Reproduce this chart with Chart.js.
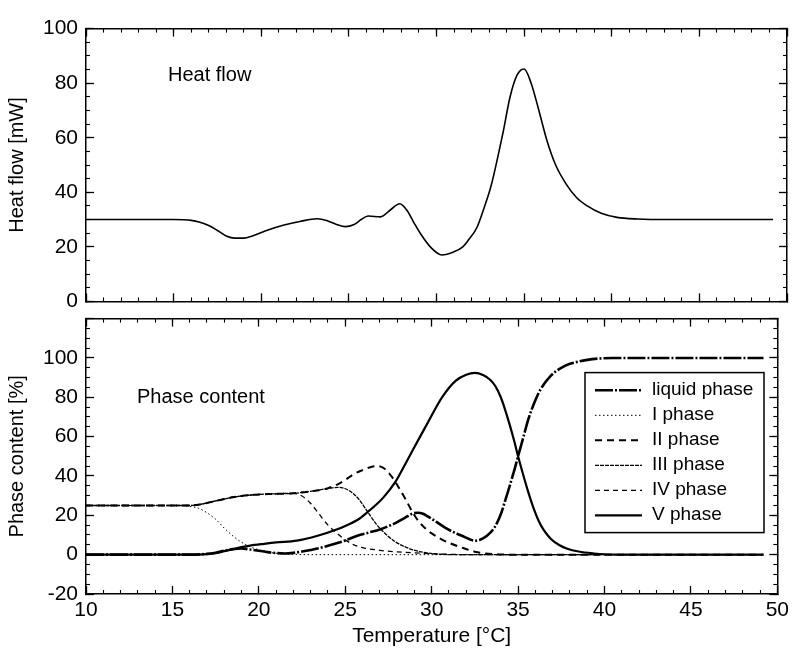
<!DOCTYPE html>
<html>
<head>
<meta charset="utf-8">
<script src="https://cdn.jsdelivr.net/npm/chart.js@4.4.1/dist/chart.umd.min.js"></script>
<style>
    html, body { margin: 0; padding: 0; background: #fff; }
    #wrap { position: relative; width: 801px; height: 650px; overflow: hidden; }
    canvas { position: absolute; left: 0; }
    #heatChart { top: 0; }
    #phaseChart { top: 290px; }
</style>
</head>
<body>
<div id="wrap">
    <canvas id="phaseChart" width="801" height="360"></canvas>
    <canvas id="heatChart" width="801" height="330"></canvas>
</div>
<script>
/* ----------------------------------------------------------------------------
  DSC heat flow + phase content vs temperature
---------------------------------------------------------------------------- */

// temperature axis
const xTickLabels = [10, 15, 20, 25, 30, 35, 40, 45, 50];
const heatTickLabels = [0, 20, 40, 60, 80, 100];
const phaseTickLabels = [-20, 0, 20, 40, 60, 80, 100];

// heat flow [mW]
const heatT = [10, 15, 16, 16.5, 17, 17.5, 18, 18.5, 19, 19.5, 20.3, 21.3, 22.2, 23.2, 23.8, 24.3, 24.8, 25.3, 25.7, 26.1, 26.8, 27.4, 27.9, 28.3, 28.7, 29.1, 29.7, 30.3, 31, 31.5, 31.8, 32.3, 32.7, 33.1, 33.5, 33.8, 34.2, 34.6, 35, 35.4, 35.8, 36.3, 36.8, 37.4, 38, 38.6, 39.4, 40.3, 41.5, 43, 49.2];
const heatFlow = [30, 30, 29.7, 29, 27.8, 26, 24, 23.2, 23.2, 24, 26, 28, 29.3, 30.3, 29.5, 28.2, 27.4, 28.2, 30, 31.3, 31, 33.7, 35.8, 33.5, 29, 24.7, 19.6, 17, 18.2, 20, 22.3, 27, 34, 42, 53, 62, 75, 83, 85.2, 80, 71, 59, 50, 43, 38, 35, 32.3, 30.8, 30.2, 30, 30];

// phase content [%]
const liquidT = [10, 16, 17, 17.5, 18, 18.5, 19, 19.5, 20, 20.5, 21, 21.5, 22, 22.5, 23, 23.5, 24, 24.5, 25, 25.7, 26.4, 27, 27.5, 27.9, 28.4, 28.9, 29.2, 29.5, 29.8, 30.3, 30.8, 31.3, 31.75, 32.2, 32.5, 32.8, 33.2, 33.65, 34, 34.2, 34.5, 34.8, 35, 35.3, 35.6, 36, 36.3, 36.9, 37.5, 38, 39, 40.5, 42, 49.2];
const liquid = [0, 0, 0.4, 1, 2, 2.8, 3.1, 2.6, 2, 1.3, 0.8, 0.6, 0.9, 1.6, 2.4, 3.3, 4.5, 5.8, 7.2, 9.6, 11.3, 12.8, 14.5, 16, 18.5, 20.9, 21.3, 20.8, 19.3, 16.5, 13.6, 11.3, 9.6, 7.8, 7.1, 7.6, 9.6, 14, 20.5, 26, 34.5, 43.5, 50, 59.5, 69, 78.5, 84, 91, 95, 97, 99, 100, 100, 100];

const phase1T = [10, 15.5, 16, 16.5, 17, 17.5, 18, 18.5, 19, 19.5, 20, 20.5, 21, 22, 23, 49.2];
const phase1 = [25, 25, 24.6, 23.6, 21.3, 18, 13.5, 9.5, 6.3, 4, 2.5, 1.4, 0.7, 0.2, 0, 0];

const phase2T = [10, 16, 16.5, 17.5, 18.5, 19.5, 20.5, 22, 23, 24, 24.5, 25, 25.5, 26, 26.5, 26.9, 27.3, 27.7, 28, 28.5, 29, 29.5, 30, 30.8, 31.75, 32.5, 33.5, 35, 49.2];
const phase2 = [25, 25, 25.4, 27.3, 29.2, 30.3, 30.8, 31.2, 32.2, 33.8, 35.5, 38, 41, 43, 44.6, 45, 43.5, 39.5, 35.5, 28, 20, 14.5, 10.8, 6.8, 3.6, 1.5, 0.3, 0, 0];

const phase3T = [10, 16, 16.5, 17.5, 18.5, 19.5, 20.5, 22, 23, 24, 24.6, 25, 25.4, 25.8, 26.2, 26.8, 27.4, 27.9, 28.5, 29.1, 29.8, 30.5, 31.5, 49.2];
const phase3 = [25, 25, 25.4, 27.3, 29.2, 30.3, 30.8, 31.2, 32.2, 33.6, 34.2, 33.5, 31.5, 28, 23, 15.5, 10, 6.5, 3.8, 2, 0.8, 0.2, 0, 0];

const phase4T = [10, 16, 16.5, 17.5, 18.5, 19.5, 20.5, 22, 22.5, 23, 23.5, 24, 24.5, 25, 25.5, 26, 27, 28, 29, 30, 31, 32, 49.2];
const phase4 = [25, 25, 25.4, 27.3, 29.2, 30.3, 30.8, 31.2, 29.8, 26, 20.5, 15, 11, 7.5, 5, 3.6, 2.2, 1.4, 0.9, 0.5, 0.2, 0, 0];

const phase5T = [10, 16, 17, 17.5, 18, 18.5, 19, 19.5, 20.3, 21, 22.2, 23.4, 24.5, 25.1, 25.7, 26.3, 26.8, 27.2, 27.9, 28.5, 29.3, 29.8, 30.6, 31.4, 32, 32.5, 33, 33.4, 33.7, 34, 34.2, 34.5, 34.8, 35, 35.3, 35.6, 35.9, 36.2, 36.5, 36.9, 37.4, 37.85, 38.5, 39.4, 40, 41, 49.2];
const phase5 = [0, 0, 0.3, 0.8, 1.8, 2.8, 3.8, 4.6, 5.5, 6.2, 7.1, 9.6, 12.8, 15, 17.6, 21.7, 25.5, 29, 37, 46.5, 59.5, 67.5, 80, 88.5, 91.5, 92.4, 91.2, 88.8, 85.5, 80, 75, 66.5, 57, 50, 40.5, 31.5, 23.5, 17, 12.3, 8, 4.8, 3, 1.6, 0.6, 0.2, 0, 0];

const FONT = "'Liberation Sans', Arial, Helvetica, sans-serif";

const pts = (xs, ys) => xs.map((x, i) => ({ x: x, y: ys[i] }));

// line dataset with a given stroke style
function series(label, xs, ys, width, dash) {
    return {
        label: label,
        data: pts(xs, ys),
        borderColor: '#000',
        borderWidth: width,
        borderDash: dash,
        pointRadius: 0,
        fill: false,
        cubicInterpolationMode: 'monotone'
    };
}

// one side of the frame: a labelled axis with long inward ticks + a minor one with short ticks
function sideAxes(id, position, min, max, major, minor, labels, title, size) {
    const horizontal = position === 'top' || position === 'bottom';
    const fit = (px) => (s) => { if (horizontal) s.height = px; else s.width = px; };
    const main = {
        type: 'linear', position: position, min: min, max: max, weight: 1,
        border: { display: true, color: '#000', width: 1.5 },
        grid: { drawOnChartArea: false, tickLength: -8, tickColor: '#000', tickWidth: 1.3 },
        ticks: {
            display: !!labels, stepSize: major, maxTicksLimit: 1000, autoSkip: false, maxRotation: 0,
            color: '#000', padding: horizontal ? 12 : 16,
            font: { family: FONT, size: 21 },
            callback: (v) => (labels && labels.includes(v) ? String(v) : '')
        },
        title: title
            ? { display: true, text: title, color: '#000',
                font: { family: FONT, size: horizontal ? 21 : 20 },
                padding: horizontal ? { top: 0, bottom: 1 } : { top: 5, bottom: 0 } }
            : { display: false },
        afterFit: fit(size || 0)
    };
    const fine = {
        type: 'linear', position: position, min: min, max: max, weight: 0,
        border: { display: false },
        grid: { drawOnChartArea: false, tickLength: -4, tickColor: '#000', tickWidth: 1.1 },
        ticks: { display: false, stepSize: minor, maxTicksLimit: 1000 },
        afterFit: fit(0)
    };
    const out = {};
    out[id] = main;
    out[id + 'm'] = fine;
    return out;
}

// panel caption and (optional) legend box inside the plot area
const panelText = {
    id: 'panelText',
    afterDatasetsDraw(chart, args, opts) {
        const { ctx, chartArea: a } = chart;
        ctx.save();
        ctx.fillStyle = '#000';
        ctx.font = '20px ' + FONT;
        ctx.textBaseline = 'alphabetic';
        ctx.fillText(opts.label, a.left + opts.at[0], a.top + opts.at[1]);
        if (opts.legend) {
            const L = opts.legend;
            const x0 = a.left + L.x, y0 = a.top + L.y;
            ctx.fillStyle = '#fff';
            ctx.fillRect(x0, y0, L.w, L.h);
            ctx.lineWidth = 1.5;
            ctx.strokeStyle = '#000';
            ctx.setLineDash([]);
            ctx.strokeRect(x0, y0, L.w, L.h);
            chart.data.datasets.forEach((ds, i) => {
                const y = y0 + L.first + i * L.step;
                ctx.beginPath();
                ctx.lineWidth = ds.borderWidth;
                ctx.setLineDash(ds.borderDash || []);
                ctx.moveTo(x0 + 10, y);
                ctx.lineTo(x0 + 57, y);
                ctx.stroke();
                ctx.setLineDash([]);
                ctx.fillStyle = '#000';
                ctx.font = '19px ' + FONT;
                ctx.textBaseline = 'middle';
                ctx.fillText(ds.label, x0 + 67, y - 1);
            });
        }
        ctx.restore();
    }
};

const common = {
    responsive: false,
    animation: false,
    events: [],
    plugins: { legend: { display: false }, tooltip: { enabled: false } }
};

// upper panel: heat flow
new Chart(document.getElementById('heatChart'), {
    type: 'line',
    data: { datasets: [series('Heat flow', heatT, heatFlow, 1.6, [])] },
    options: Object.assign({}, common, {
        layout: { autoPadding: false, padding: { left: 0, right: 14, top: 14, bottom: 25 } },
        scales: Object.assign({},
            sideAxes('x', 'bottom', 10, 50, 5, 1, null, null, 0),
            sideAxes('xt', 'top', 10, 50, 5, 1, null, null, 0),
            sideAxes('y', 'left', 0, 100, 20, 5, heatTickLabels, 'Heat flow [mW]', 86),
            sideAxes('yr', 'right', 0, 100, 20, 5, null, null, 0)
        ),
        plugins: Object.assign({}, common.plugins, {
            panelText: { label: 'Heat flow', at: [82, 52] }
        })
    }),
    plugins: [panelText]
});

// lower panel: phase content
new Chart(document.getElementById('phaseChart'), {
    type: 'line',
    data: {
        datasets: [
            series('liquid phase', liquidT, liquid, 2.6, [18, 2, 2, 2]),
            series('I phase', phase1T, phase1, 1, [1.5, 2.5]),
            series('II phase', phase2T, phase2, 2, [7, 5]),
            series('III phase', phase3T, phase3, 1.3, [4, 1]),
            series('IV phase', phase4T, phase4, 1.3, [5, 4]),
            series('V phase', phase5T, phase5, 2.2, [])
        ]
    },
    options: Object.assign({}, common, {
        layout: { autoPadding: false, padding: { left: 0, right: 14, top: 15, bottom: 0 } },
        scales: Object.assign({},
            sideAxes('x', 'bottom', 10, 50, 5, 1, xTickLabels, 'Temperature [°C]', 56),
            sideAxes('xt', 'top', 10, 50, 5, 1, null, null, 0),
            sideAxes('y', 'left', -20, 120, 20, 5, phaseTickLabels, 'Phase content [%]', 86),
            sideAxes('yr', 'right', -20, 120, 20, 5, null, null, 0)
        ),
        plugins: Object.assign({}, common.plugins, {
            panelText: {
                label: 'Phase content', at: [51, 84],
                legend: { x: 499, y: 54, w: 179, h: 160, first: 17.7, step: 25 }
            }
        })
    }),
    plugins: [panelText]
});
</script>
</body>
</html>
